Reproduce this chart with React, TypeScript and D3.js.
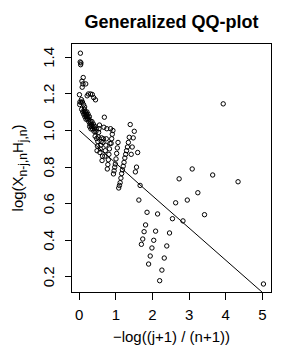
import React from 'react';
import * as d3 from 'd3';

// generalized QQ-plot points, x = -log((j+1)/(n+1)), y = log(X H)
const qqX = [
  5.030, 4.337, 3.932, 3.644, 3.421, 3.239, 3.085, 2.951, 2.833, 2.728,
  2.633, 2.546, 2.466, 2.391, 2.322, 2.258, 2.197, 2.140, 2.086, 2.035,
  1.986, 1.939, 1.895, 1.852, 1.812, 1.772, 1.735, 1.698, 1.663, 1.629,
  1.596, 1.565, 1.534, 1.504, 1.475, 1.447, 1.420, 1.393, 1.367, 1.342,
  1.317, 1.293, 1.269, 1.246, 1.224, 1.202, 1.180, 1.159, 1.139, 1.118,
  1.099, 1.079, 1.060, 1.041, 1.023, 1.005, 0.987, 0.970, 0.953, 0.936,
  0.920, 0.903, 0.887, 0.872, 0.856, 0.841, 0.826, 0.811, 0.796, 0.782,
  0.768, 0.754, 0.740, 0.726, 0.713, 0.700, 0.687, 0.674, 0.661, 0.648,
  0.636, 0.624, 0.612, 0.600, 0.588, 0.576, 0.565, 0.553, 0.542, 0.531,
  0.520, 0.509, 0.498, 0.487, 0.477, 0.466, 0.456, 0.445, 0.435, 0.425,
  0.415, 0.405, 0.396, 0.386, 0.376, 0.367, 0.358, 0.348, 0.339, 0.330,
  0.321, 0.312, 0.303, 0.294, 0.286, 0.277, 0.268, 0.260, 0.251, 0.243,
  0.235, 0.226, 0.218, 0.210, 0.202, 0.194, 0.186, 0.178, 0.171, 0.163,
  0.155, 0.148, 0.140, 0.133, 0.125, 0.118, 0.110, 0.103, 0.096, 0.089,
  0.082, 0.075, 0.068, 0.061, 0.054, 0.047, 0.040, 0.033, 0.027, 0.020,
  0.013, 0.007,
];

const qqY = [
  0.161, 0.720, 1.146, 0.757, 0.540, 0.660, 0.790, 0.620, 0.506, 0.736,
  0.605, 0.518, 0.440, 0.369, 0.303, 0.237, 0.179, 0.544, 0.450, 0.400,
  0.358, 0.314, 0.270, 0.553, 0.484, 0.447, 0.407, 0.378, 0.700, 0.620,
  0.880, 0.800, 0.774, 0.996, 0.960, 0.910, 0.870, 1.033, 0.963, 0.935,
  0.910, 0.890, 0.870, 0.850, 0.826, 0.805, 0.785, 0.765, 0.740, 0.715,
  0.700, 0.686, 0.935, 0.905, 0.875, 0.845, 0.817, 0.800, 0.780, 0.763,
  1.000, 0.980, 0.955, 0.930, 1.010, 0.930, 0.900, 0.870, 0.840, 0.814,
  0.790, 1.010, 0.955, 0.920, 0.890, 0.860, 1.073, 1.018, 0.955, 0.935,
  0.860, 0.836, 0.960, 0.940, 0.920, 0.900, 0.880, 1.030, 1.010, 0.990,
  0.965, 0.940, 0.915, 0.890, 0.956, 1.009, 0.995, 1.168, 0.969, 1.023,
  1.009, 0.996, 1.180, 1.036, 1.022, 1.009, 1.197, 1.049, 1.035, 1.023,
  1.009, 1.200, 1.049, 1.036, 1.022, 1.076, 1.062, 1.049, 1.200, 1.089,
  1.075, 1.063, 1.190, 1.102, 1.089, 1.076, 1.062, 1.255, 1.102, 1.089,
  1.076, 1.129, 1.115, 1.103, 1.089, 1.142, 1.290, 1.255, 1.102, 1.156,
  1.237, 1.270, 1.116, 1.169, 1.155, 1.370, 1.360, 1.423, 1.375, 1.156,
  1.142, 1.196,
];

// fitted line
const lineX = [0.007, 1.66, 5.03];
const lineY = [1.0, 0.703, 0.11];

const xTicks = [0, 1, 2, 3, 4, 5];
const yTicks = [0.2, 0.4, 0.6, 0.8, 1.0, 1.2, 1.4];
const xDomain = [-0.21, 5.25];
const yDomain = [0.1145, 1.476];

const font = '"Liberation Sans", Arial, sans-serif';

export default function App() {
  const width = 300;
  const height = 350;
  const margin = { top: 43.5, right: 28.5, bottom: 57.5, left: 71.5 };
  const left = margin.left;
  const right = width - margin.right;
  const top = margin.top;
  const bottom = height - margin.bottom;

  const x = d3.scaleLinear().domain(xDomain).range([left, right]);
  const y = d3.scaleLinear().domain(yDomain).range([bottom, top]);
  const crisp = (v: number) => Math.round(v - 0.5) + 0.5;

  const line = d3
    .line<number>()
    .x((d, i) => x(lineX[i]))
    .y((d) => y(d));

  return (
    <svg
      width={width}
      height={height}
      style={{ position: 'absolute', left: 0, top: 0, background: '#fff' }}
      fontFamily={font}
    >
      <defs>
        <clipPath id="plotArea">
          <rect x={left} y={top} width={right - left} height={bottom - top} />
        </clipPath>
      </defs>
      <rect width={width} height={height} fill="#fff" />

      <text x={(left + right) / 2} y={28} textAnchor="middle" fontSize={18} fontWeight="bold">
        Generalized QQ-plot
      </text>

      <g clipPath="url(#plotArea)">
        <path d={line(lineY) || ''} fill="none" stroke="#000" strokeWidth={1} />
        {qqX.map((v, i) => (
          <circle key={i} cx={x(v)} cy={y(qqY[i])} r={2.2} fill="none" stroke="#000" strokeWidth={1} />
        ))}
      </g>

      <rect
        x={left}
        y={top}
        width={right - left}
        height={bottom - top}
        fill="none"
        stroke="#000"
        strokeWidth={1}
        shapeRendering="crispEdges"
      />

      {xTicks.map((t) => (
        <g key={'x' + t}>
          <line x1={crisp(x(t))} x2={crisp(x(t))} y1={bottom} y2={bottom + 7} stroke="#000" shapeRendering="crispEdges" />
          <text x={x(t)} y={319.5} textAnchor="middle" fontSize={15}>
            {t}
          </text>
        </g>
      ))}

      {yTicks.map((t) => (
        <g key={'y' + t}>
          <line x1={left - 7} x2={left} y1={crisp(y(t))} y2={crisp(y(t))} stroke="#000" shapeRendering="crispEdges" />
          <text transform={`translate(53.5,${y(t)}) rotate(-90)`} textAnchor="middle" fontSize={15}>
            {t.toFixed(1)}
          </text>
        </g>
      ))}

      <text x={(left + right) / 2} y={342} textAnchor="middle" fontSize={15}>
        {'\u2212log((j+1) / (n+1))'}
      </text>

      <text transform={`translate(23,${(top + bottom) / 2}) rotate(-90)`} textAnchor="middle" fontSize={15}>
        log(X
        <tspan fontSize={12} dy={4}>n-j,n</tspan>
        <tspan dy={-4}>H</tspan>
        <tspan fontSize={12} dy={4}>j,n</tspan>
        <tspan dy={-4}>)</tspan>
      </text>
    </svg>
  );
}
